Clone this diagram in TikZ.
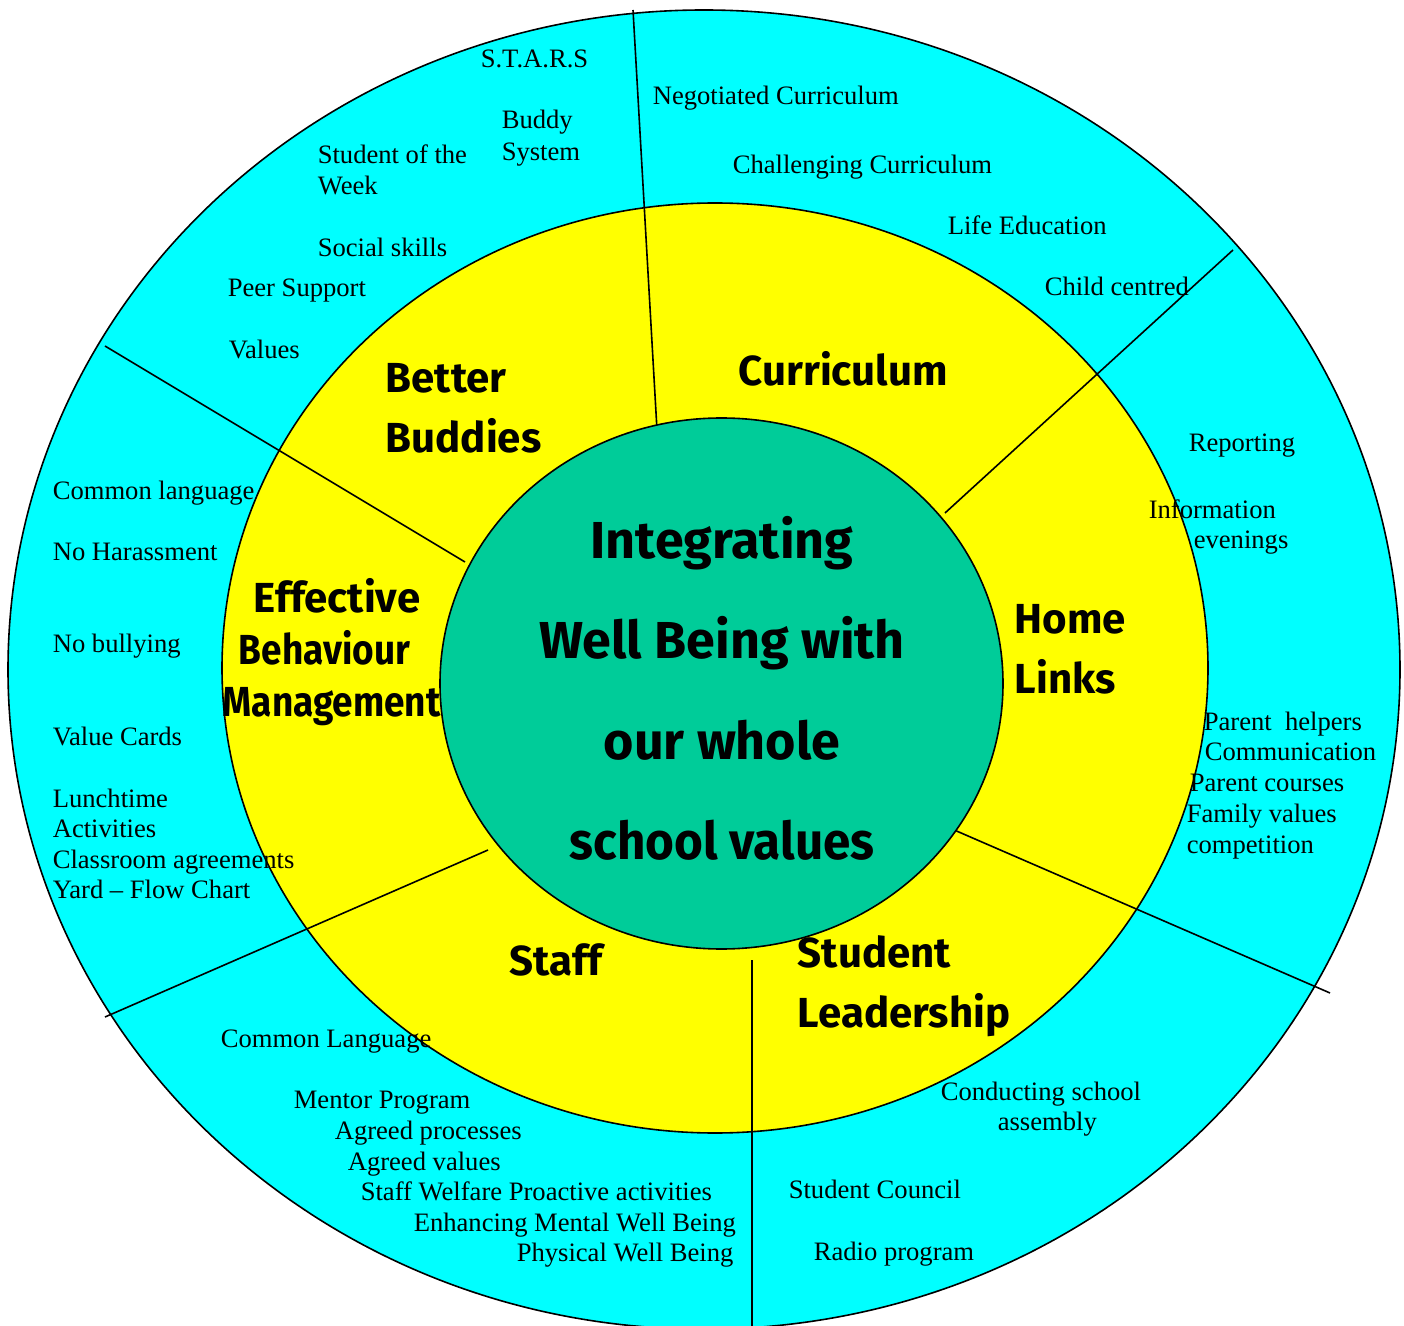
\documentclass[tikz,border=0pt]{standalone}
\usepackage{fontspec}
\setmainfont{Liberation Serif}
\newfontfamily\headfont{Fira Sans}
\definecolor{ringout}{RGB}{0,255,255}
\definecolor{ringmid}{RGB}{255,255,0}
\definecolor{ringcore}{RGB}{0,204,153}

\begin{document}
\begin{tikzpicture}[x=0.5pt, y=-0.5pt, line width=0.8pt,
    item/.style={anchor=base west, inner sep=0pt, font=\fontsize{13.3}{15.4}\selectfont},
    head/.style={anchor=base west, inner sep=0pt, font=\headfont\bfseries\fontsize{21}{25}\selectfont},
    core/.style={anchor=base, inner sep=0pt, font=\headfont\bfseries\fontsize{26}{30}\selectfont}]
  \useasboundingbox (0,0) rectangle (1404,1326);
  \draw[fill=ringout] (704,669.6) ellipse [x radius=696, y radius=659.6];
  \draw[fill=ringmid] (715,668) ellipse [x radius=493, y radius=465];
  % spokes between the six areas
  \foreach \ax/\ay/\bx/\by [count=\i] in {657/430/633/10, 945/513/1233/250, 945/826/1330/993,
      752/960/752/1330, 488/850/105/1017, 465/562/105/346}{
    \coordinate (in\i) at (\ax,\ay);
    \coordinate (out\i) at (\bx,\by);
    \draw (in\i) -- (out\i);
  }
  \draw[fill=ringcore] (721.5,683.5) ellipse [x radius=281.5, y radius=265.5];

  % centre
  \node[core] (c1) at (722,559) {Integrating};
  \node[core] (c2) at (722,659) {Well Being with};
  \node[core] (c3) at (722,759) {our whole};
  \node[core] (c4) at (722,859) {\scalebox{0.95}[1]{school values}};

  % the six areas
  \node[head] (bb1) at (385,393) {Better};
  \node[head] (bb2) at (385,453) {Buddies};
  \node[head] (cur) at (738,386) {Curriculum};
  \node[head] (hl1) at (1014,633) {Home};
  \node[head] (hl2) at (1014,693) {Links};
  \node[head] (eb1) at (253,613) {Effective};
  \node[head] (eb2) at (238,664) {\scalebox{0.88}[1]{Behaviour}};
  \node[head] (eb3) at (222,716) {\scalebox{0.88}[1]{Management}};
  \node[head] (stf) at (509,975) {Staff};
  \node[head] (sl1) at (797,967) {Student};
  \node[head] (sl2) at (797,1027) {Leadership};

  % what goes on in each area
  \foreach \txt/\x/\y [count=\i] in {S.T.A.R.S/480/68, Buddy/501/129, System/501/161,
      Student of the/317/164, Week/317/195, Social skills/317/257, Peer Support/227/297,
      Values/228/359, Negotiated Curriculum/652/105, Challenging Curriculum/732/174,
      Life Education/947/235, Child centred/1044/296, Reporting/1188/452,
      Information/1148/519, evenings/1193/549, Parent~ helpers/1203/730,
      Communication/1204/760, Parent courses/1189/791, Family values/1186/822,
      competition/1186/853, Common language/52/500, No Harassment/52/561,
      No bullying/52/653, Value Cards/52/745, Lunchtime/52/807, Activities/52/837,
      Classroom agreements/52/868, Yard -- Flow Chart/52/898, Common Language/220/1047,
      Mentor Program/293/1108, Agreed processes/334/1139, Agreed values/347/1170,
      Staff Welfare Proactive activities/360/1200, Enhancing Mental Well Being/413/1231,
      Physical Well Being/516/1261, Conducting school/940/1100, assembly/997/1130,
      Student Council/788/1198, Radio program/813/1260}
    \node[item] (it\i) at (\x,\y) {\txt};
\end{tikzpicture}
\end{document}
